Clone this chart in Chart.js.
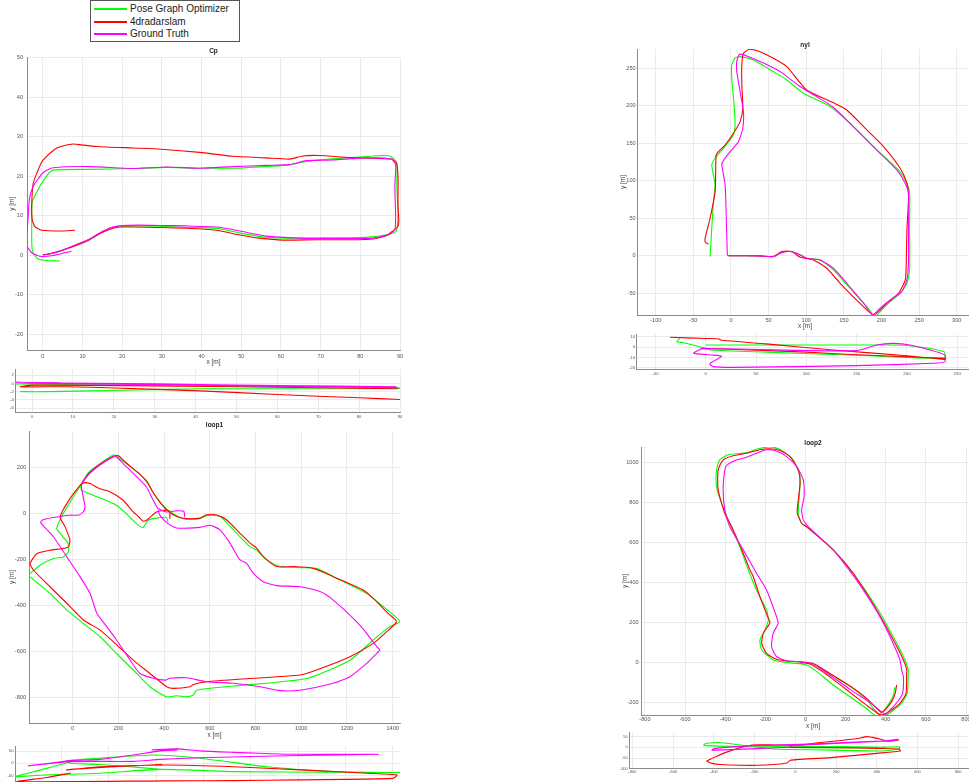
<!DOCTYPE html>
<html>
<head>
<meta charset="utf-8">
<script src="https://cdn.jsdelivr.net/npm/chart.js@4.4.0/dist/chart.umd.min.js"></script>
<style>
  body { margin: 0; background: #fff; width: 969px; height: 782px; overflow: hidden; position: relative;
         font-family: "Liberation Sans", Arial, Helvetica, sans-serif; }
  canvas { position: absolute; }
  #legend { position: absolute; left: 90px; top: 0; width: 148px; height: 40px; border: 1px solid #555; background: #fff; z-index: 5; }
  #legend .row { position: absolute; left: 0; height: 12px; line-height: 12px; font-size: 10px; color: #222; white-space: nowrap; }
  #legend .swatch { position: absolute; left: 3px; top: 5px; width: 33px; height: 2px; }
  #legend .label { position: absolute; left: 39px; top: 0; }
</style>
</head>
<body>
<div id="legend"></div>
<script>
// series names / colours
const legendNames = ['Pose Graph Optimizer', '4dradarslam', 'Ground Truth'];
const seriesColors = ['#00ff00', '#ff0000', '#ff00ff'];

// ---- Cp : x/y trajectories [m]
const cpPgo = [[0,0],[3,0.6],[6,1.6],[10,3.2],[11.8,4],[14.3,5.4],[17,6.8],[19.5,7.3],[24,7.4],[29.4,7.3],[36,7],[43.7,6.8],[49.6,5.6],[56.3,4.5],[64.7,4.3],[73,4.4],[81.5,4.5],[87,5.2],[89.1,6.1],[89.5,10.7],[89.2,17.4],[89.2,23.3],[87.8,24.9],[85.7,25.2],[79.8,24.8],[73.1,24.4],[66.4,23.7],[62.2,22.9],[56,22.4],[47.9,22],[39.5,22],[31.1,22.2],[22.7,21.9],[11.8,21.7],[2.6,21.5],[0.9,20],[-1.2,16.6],[-2.7,13.3],[-2.8,8.2],[-2.7,1.4],[-1.6,-0.7],[0.1,-1.3],[4.3,-1.5]];
const cpSlam = [[0,0],[3,0.6],[6,1.6],[10,3.1],[11.8,3.9],[14.3,5.4],[16.8,6.5],[19.3,7.1],[22.7,7.1],[29.4,7],[36.1,6.8],[43.7,6.3],[49.6,5.1],[54.6,4.3],[60.5,3.8],[68.9,3.9],[77.3,3.9],[83.2,4.1],[86.6,5],[88.2,6.1],[89.5,7.3],[89.7,9],[89.5,12.4],[89.5,19.9],[89.1,23.3],[87.8,24.3],[83.2,24.5],[77.3,24.7],[69.7,25.2],[65.5,25.1],[62.2,24.3],[56.3,24.6],[47.9,25],[39.5,26],[29.8,26.8],[22.7,27.1],[13.4,27.5],[9.7,27.9],[7.6,28.1],[4.6,27.5],[3,26.8],[0,24],[-0.8,22.5],[-2.4,18.3],[-2.8,13.3],[-2.7,9],[-2,7.2],[-0.3,6.3],[4.3,6.1],[8.1,6.3]];
const cpGt = [[0.5,0.1],[3,0.7],[6,1.7],[10,3.3],[11.8,4.1],[14.3,5.6],[17,6.9],[19.3,7.4],[24,7.6],[29.4,7.5],[36,7.4],[43.7,7.1],[49.6,6.1],[56.3,4.8],[64.7,4.3],[73.1,4.2],[83.2,4.3],[87,5.1],[88.7,6.5],[88.9,9.8],[88.7,17.4],[88.9,22.9],[87.8,24.3],[81.5,24.6],[73.1,24.1],[66.4,23.9],[62.2,22.9],[56.3,22.7],[47.9,22.4],[39.5,22],[31.1,22.3],[22.7,21.9],[11.8,22.4],[2.6,22.1],[0.1,20.9],[-2.4,17.5],[-3.4,14.1],[-3.7,9.9],[-4.1,4.8],[-4,2.3],[-2.8,0.6],[-0.8,-0.3],[2.6,-0.1],[7.2,1]];
// Cp : x/z side view
const cpPgoSide = [[-4,-0.1],[20,-0.4],[50,-0.7],[89,-0.9],[90,-1.2],[60,-1.3],[41,-1.3],[24.8,-1.6],[4.4,-2],[-2.9,-2]];
const cpSlamSide = [[89.5,-1.3],[60,-0.9],[30,-0.6],[0,-0.4],[-2.9,-0.8],[8.5,-0.8],[20,-1.1],[41,-1.8],[60,-2.7],[80,-3.5],[90,-3.9]];
const cpGtSide = [[0,0.2],[30,-0.1],[60,-0.5],[89,-0.8],[89,-1],[60,-0.7],[30,-0.3],[0,0.1],[-4,0.3],[7,0.2]];

// ---- nyl
const nylPgo = [[-3.4,0.2],[3.2,0.2],[38.6,-0.2],[56.4,-1.1],[67.3,4.5],[78.4,5.6],[89.6,2.4],[100.7,-3.3],[118.4,-5.6],[136,-18.9],[156,-41],[180.5,-67.8],[191.6,-81],[198.2,-74.4],[211.6,-61.1],[224.9,-50],[233.8,-36.7],[237.4,-18.9],[237.4,34.4],[237.4,83.3],[233.8,96.7],[222.6,114.4],[193.8,141.1],[162.8,172.2],[131.8,198.9],[96.3,216.7],[74.1,234.4],[56.4,245.5],[29.9,261],[12.1,265.5],[5.4,264],[1,254.4],[1,236.7],[4.1,201],[5.4,174.4],[3.2,161],[-10.1,143.3],[-21.1,130],[-25.5,121],[-21.1,94.4],[-23.4,72],[-27.8,-1.2]];
const nylSlam = [[-3.4,0.2],[3.2,0.2],[38.6,-0.2],[56.4,-1.1],[67.5,5.6],[80.8,5.6],[91.9,-2],[109.6,-5.6],[127.3,-16.7],[145,-36.7],[176,-67.8],[189.5,-79],[207.2,-63.3],[222.7,-50],[231.6,-32.2],[232.9,-10],[233.8,34.4],[236,79],[233.8,96.7],[224.9,116.7],[202.7,145.6],[180.5,167.8],[153.9,194.4],[136.2,204],[100.7,221],[74.1,252.2],[56.4,263.3],[38.7,272],[29.8,274.6],[24.5,275.3],[16.5,270],[14.4,255],[14.4,227.7],[15.7,196.7],[12.1,178.8],[3.2,163.3],[-7.8,147.7],[-16.7,138.8],[-19.8,134.4],[-21.1,85.5],[-27.8,50],[-34.4,23.3],[-34,18],[-30,15.3]];
const nylGt = [[-3.4,0.2],[3.2,0.2],[38.6,-0.2],[56.3,-1.1],[67.3,4.2],[78.4,5.6],[87.4,3.3],[100.7,-3.3],[118.4,-5.6],[136,-16.7],[153.9,-36.7],[176,-63],[188.4,-79],[198.2,-70],[211.5,-59],[227,-47.8],[233.7,-32],[235.9,-10],[235.9,34.4],[235.9,83.3],[231.5,96.7],[220.4,114.4],[193.8,141],[162.8,172],[136,198],[114,212],[91.9,225.6],[65.3,245.5],[43.1,257],[21,266.5],[11.2,268.7],[7.7,259],[7.7,245.5],[12.1,218.8],[16.5,192],[15.7,170],[9.8,152],[-1.2,138.8],[-10.9,125.5],[-12.2,121],[-7.8,94.4],[-6.5,58.8],[-4.8,1],[-3.4,0.2]];
const nylPgoSide = [[0,1.9],[50,1.9],[100,1.9],[176,1.9],[200,1.5],[237,-4.5],[237,-11],[150,-8],[60,-5],[5,-2.9],[-5,0],[-22,4.2],[-28.8,5.2],[-25.5,8.4]];
const nylSlamSide = [[-3,-1.3],[50,-3],[100,-5],[150,-7.5],[200,-9.5],[237.7,-11],[237.7,-12],[200,-8.5],[126.8,-2.9],[60,3],[14.2,6.8],[14.2,7.8],[0,8.3],[-35.4,9.4]];
const nylGtSide = [[-5,-1.3],[30,-2],[80,-3],[150,-3.5],[170,2],[186,3.5],[203,1.9],[237.7,-7.7],[237.7,-14.2],[226,-15.8],[150,-18],[27.5,-19.7],[7.6,-19],[4,-16],[16,-9],[5,-7.7],[-12,-6],[-3,-1.3]];

// ---- loop1
const loop1Pgo = [[417,-36],[410,-17],[367,-20],[330,-29],[308,-61],[280,-45],[250,-15],[192,36],[90,80],[39,102],[37,125],[70,180],[120,218],[177,255],[192,250],[260,198],[323,145],[350,95],[381,51],[411,20],[468,-17],[499,-25],[556,-22],[586,-9],[645,-13],[703,-71],[776,-144],[805,-159],[849,-202],[907,-231],[995,-236],[1067,-239],[1140,-275],[1286,-348],[1359,-406],[1432,-471],[1388,-493],[1315,-551],[1213,-639],[1024,-719],[703,-752],[542,-770],[528,-791],[499,-799],[455,-794],[411,-799],[338,-755],[265,-682],[192,-610],[120,-537],[47,-479],[-26,-420],[-99,-348],[-194,-268],[-186,-262],[-143,-225],[-84,-196],[-41,-189],[-19,-167],[-19,-131],[-55,-87],[-70,-65],[-41,0],[3,73],[39,131]];
const loop1Slam = [[425,-23],[425,7],[410,15],[367,7],[323,-29],[308,-33],[290,-15],[265,7],[221,58],[163,95],[120,108],[76,131],[54,135],[39,130],[70,175],[120,215],[178,250],[200,252],[230,225],[290,175],[324,139],[350,95],[381,51],[411,16],[440,-5],[468,-17],[499,-22],[556,-20],[586,-5],[630,-6],[674,-28],[732,-86],[776,-129],[805,-151],[834,-188],[892,-231],[965,-231],[1053,-239],[1140,-275],[1271,-333],[1315,-370],[1380,-435],[1417,-471],[1373,-515],[1315,-566],[1213,-624],[1067,-682],[995,-704],[776,-719],[586,-733],[528,-745],[513,-755],[440,-762],[411,-755],[338,-697],[265,-639],[178,-559],[120,-508],[47,-464],[-26,-391],[-99,-319],[-172,-246],[-186,-218],[-157,-175],[-99,-160],[-48,-153],[-19,-145],[-12,-116],[-33,-58],[-55,-15],[-12,65],[39,131]];
const loop1Gt = [[490,-15],[486,10],[454,12],[410,7],[374,22],[352,58],[323,116],[265,175],[221,218],[192,247],[177,247],[120,212],[76,176],[39,124],[46,73],[54,29],[46,7],[25,-7],[-12,-7],[-84,-17],[-128,-26],[-140,-39],[-85,-100],[-26,-188],[32,-275],[76,-348],[106,-435],[149,-493],[192,-551],[251,-639],[294,-697],[353,-718],[404,-726],[426,-718],[499,-716],[586,-733],[703,-740],[820,-755],[907,-772],[995,-770],[1140,-740],[1213,-711],[1286,-653],[1330,-609],[1344,-595],[1330,-580],[1286,-522],[1242,-471],[1140,-377],[1082,-340],[995,-319],[892,-314],[834,-297],[790,-260],[761,-217],[732,-202],[688,-129],[645,-71],[600,-51],[557,-60],[484,-64],[454,-63],[417,-44],[381,-7],[374,15]];
const loop1PgoSide = [[419,-25],[300,-15],[162,-5],[39,0],[21,10],[162,21],[388,34],[585,21],[867,-14],[1149,-34],[1431,-38],[1149,-37],[726,-34],[416,-25],[162,-41],[-78,-48],[-196,-55],[-100,-30],[39,5]];
const loop1SlamSide = [[425,-5],[200,-15],[39,-25],[21,-27],[162,-14],[444,-7],[726,-14],[1008,-27],[1290,-41],[1417,-48],[1400,-62],[1000,-68],[726,-71],[440,-72],[-190,-75],[-63,-58],[39,-40]];
const loop1GtSide = [[490,55],[410,50],[303,34],[162,16],[35,11],[-78,-4],[-141,-10],[35,7],[303,8],[416,16],[585,23],[1008,32],[1339,37],[980,37],[839,41],[726,45],[585,51],[486,59],[381,55]];

// ---- loop2
const loop2Pgo = [[445,-125],[438,-165],[420,-200],[395,-235],[370,-258],[340,-232],[305,-185],[222,-120],[138,-68],[72,-26],[39,-8],[-2,-2],[-44,-5],[-94,0],[-160,12],[-218,62],[-227,112],[-202,162],[-185,212],[-194,262],[-244,362],[-285,462],[-327,578],[-377,695],[-418,795],[-443,878],[-443,962],[-427,1012],[-385,1037],[-293,1048],[-244,1065],[-194,1075],[-152,1073],[-110,1053],[-61,1012],[-27,928],[-31,828],[-36,745],[-19,695],[14,670],[138,562],[238,445],[363,262],[446,112],[496,12],[512,-38],[512,-55],[507,-155],[479,-205],[429,-247],[404,-263],[380,-275],[355,-272],[305,-232],[222,-172],[138,-113],[55,-45],[6,-13],[-44,-5]];
const loop2Slam = [[454,-113],[447,-155],[430,-195],[405,-228],[380,-250],[350,-225],[305,-180],[222,-118],[138,-65],[72,-24],[39,-6],[-2,0],[-27,3],[-94,7],[-144,15],[-194,45],[-218,95],[-210,145],[-177,198],[-185,220],[-227,328],[-260,428],[-277,462],[-310,545],[-360,662],[-402,745],[-435,862],[-435,962],[-410,1012],[-360,1032],[-293,1045],[-227,1062],[-177,1067],[-127,1058],[-77,1028],[-36,962],[-27,895],[-36,812],[-41,745],[-19,695],[6,678],[138,562],[238,445],[355,262],[438,112],[488,12],[505,-38],[504,-55],[501,-155],[471,-205],[429,-238],[396,-258],[371,-262],[340,-240],[305,-215],[222,-150],[138,-85],[72,-37],[22,-8],[-27,0]];
const loop2Gt = [[-27,3],[-94,8],[-144,28],[-169,78],[-161,145],[-136,195],[-144,228],[-194,362],[-244,445],[-310,562],[-377,678],[-402,762],[-410,878],[-397,978],[-352,1008],[-294,1025],[-244,1045],[-194,1062],[-152,1058],[-94,1028],[-44,978],[-11,912],[-7,828],[-19,762],[-11,712],[22,670],[138,562],[205,478],[288,362],[371,228],[429,112],[471,12],[479,-38],[488,-72],[484,-155],[459,-197],[429,-230],[412,-247],[400,-260],[370,-240],[340,-215],[305,-190],[222,-135],[138,-75],[72,-28],[39,-8],[-27,3]];
const loop2PgoSide = [[445,0],[300,3],[100,4],[0,5],[-218,3],[-443,8],[-450,11],[-434,19],[-376,23],[-336,19],[-205,3],[-106,-8],[-27,-10],[188,-13],[434,-17],[512,-5],[512,3],[400,0],[200,-2],[-44,0]];
const loop2SlamSide = [[507,34],[454,30],[401,42],[352,50],[300,40],[200,30],[100,20],[25,11],[-100,11],[-213,11],[-330,-20],[-434,-64],[-409,-75],[-368,-80],[-188,-84],[-41,-73],[-25,-60],[188,-47],[400,-28],[516,-17],[507,-8],[400,-5],[200,-2],[0,0],[-27,0]];
const loop2GtSide = [[-27,0],[-94,-2],[-169,-5],[-409,-13],[-393,-5],[-205,8],[25,14],[352,27],[466,30],[507,38],[480,35],[400,28],[200,18],[0,10],[-27,5]];

// tick values
const cpXTicks = [0,10,20,30,40,50,60,70,80,90];
const cpYTicks = [-20,-10,0,10,20,30,40,50];
const cpZTicks = [-6,-4,-2,0,2];
const nylXTicks = [-100,-50,0,50,100,150,200,250,300];
const nylYTicks = [-50,0,50,100,150,200,250];
const nylSideXTicks = [-50,0,50,100,150,200,250];
const nylZTicks = [-20,-10,0,10];
const loop1XTicks = [0,200,400,600,800,1000,1200,1400];
const loop1YTicks = [-800,-600,-400,-200,0,200];
const loop1ZTicks = [-50,0,50];
const loop2XTicks = [-800,-600,-400,-200,0,200,400,600,800];
const loop2YTicks = [-200,0,200,400,600,800,1000];
const loop2ZTicks = [-100,-50,0,50];

const FONT = '"Liberation Sans", Arial, Helvetica, sans-serif';
Chart.defaults.font.family = FONT;

// legend
const legendEl = document.getElementById('legend');
const rowCenters = [8, 20.5, 33];
legendNames.forEach((name, i) => {
    const row = document.createElement('div');
    row.className = 'row';
    row.style.top = (rowCenters[i] - 6) + 'px';
    row.innerHTML = `<span class="swatch" style="background:${seriesColors[i]}"></span><span class="label">${name}</span>`;
    legendEl.appendChild(row);
});

// title above the axes, MATLAB style
const plotTitle = {
    id: 'plotTitle',
    afterDraw(chart, args, opts) {
        if (!opts.text) return;
        const { ctx, chartArea } = chart;
        ctx.save();
        ctx.font = 'bold 6.5px ' + FONT;
        ctx.fillStyle = '#222';
        ctx.textAlign = 'center';
        ctx.textBaseline = 'middle';
        ctx.fillText(opts.text, (chartArea.left + chartArea.right) / 2, chartArea.top - opts.gap);
        ctx.restore();
    }
};

function toPts(arr) {
    return arr.map(p => ({ x: p[0], y: p[1] }));
}

function drawPlot(spec) {
    const [cl, ct, cr, cb] = spec.canvas;
    const [L, T, R, B] = spec.area;
    const c = document.createElement('canvas');
    c.width = cr - cl;
    c.height = cb - ct;
    c.style.left = cl + 'px';
    c.style.top = ct + 'px';
    c.style.width = c.width + 'px';
    c.style.height = c.height + 'px';
    document.body.appendChild(c);

    const tickFont = { size: spec.tickSize, family: FONT };
    const gridOpts = { color: '#e6e6e6', lineWidth: 0.8, drawTicks: false };
    const borderOpts = { color: '#8a8a8a', width: 1 };

    // ground truth drawn on top
    const order = [2, 1, 0];
    const datasets = order.map(i => ({
        data: toPts(spec.series[i]),
        borderColor: seriesColors[i],
        backgroundColor: seriesColors[i],
        borderWidth: 1.1,
        pointRadius: 0,
        showLine: true,
        fill: false,
        tension: 0.2
    }));

    new Chart(c, {
        type: 'scatter',
        data: { datasets },
        options: {
            responsive: false,
            devicePixelRatio: 1,
            animation: false,
            events: [],
            layout: { padding: { left: 0, top: T - ct, right: cr - R, bottom: 0 } },
            plugins: {
                legend: { display: false },
                tooltip: { enabled: false },
                plotTitle: { text: spec.title, gap: spec.titleGap }
            },
            scales: {
                x: {
                    type: 'linear', position: 'bottom',
                    min: spec.x[0], max: spec.x[1],
                    afterBuildTicks: s => { s.ticks = spec.xTicks.map(v => ({ value: v })); },
                    afterFit: s => { s.height = cb - B; s.paddingLeft = 0; s.paddingRight = 0; },
                    ticks: { font: tickFont, color: '#555', padding: spec.xPad, autoSkip: false, maxRotation: 0, minRotation: 0, callback: v => String(v) },
                    grid: gridOpts,
                    border: borderOpts,
                    title: { display: !!spec.axisTitles, text: 'x [m]', font: { size: 6.5 }, color: '#444', padding: 0 }
                },
                y: {
                    type: 'linear', position: 'left',
                    min: spec.y[0], max: spec.y[1],
                    afterBuildTicks: s => { s.ticks = spec.yTicks.map(v => ({ value: v })); },
                    afterFit: s => { s.width = L - cl; s.paddingTop = 0; s.paddingBottom = 0; },
                    ticks: { font: tickFont, color: '#555', padding: spec.yPad, autoSkip: false, callback: v => String(v) },
                    grid: gridOpts,
                    border: borderOpts,
                    title: { display: !!spec.axisTitles, text: 'y [m]', font: { size: 6.5 }, color: '#444', padding: 0 }
                }
            }
        },
        plugins: [plotTitle]
    });
}

// Cp
drawPlot({ canvas: [8, 45, 404, 366], area: [27, 57.5, 400, 350], x: [-4, 90], y: [-24, 50],
    xTicks: cpXTicks, yTicks: cpYTicks, series: [cpPgo, cpSlam, cpGt],
    title: 'Cp', titleGap: 6, axisTitles: true, tickSize: 5.6, xPad: 3, yPad: 4 });
drawPlot({ canvas: [1, 367, 404, 421], area: [15.3, 369, 400, 412.3], x: [-4.1, 90], y: [-7.05, 3.55],
    xTicks: cpXTicks, yTicks: cpZTicks, series: [cpPgoSide, cpSlamSide, cpGtSide],
    tickSize: 4.2, xPad: 2.5, yPad: 1.5 });

// nyl
drawPlot({ canvas: [619, 38, 976, 330], area: [637.7, 49, 972.3, 315], x: [-124, 320.7], y: [-79, 275.7],
    xTicks: nylXTicks, yTicks: nylYTicks, series: [nylPgo, nylSlam, nylGt],
    title: 'nyl', titleGap: 4, axisTitles: true, tickSize: 5.6, xPad: 2, yPad: 2 });
drawPlot({ canvas: [626, 332, 976, 378], area: [636.7, 334, 972.3, 369], x: [-68.6, 265], y: [-21.3, 12.6],
    xTicks: nylSideXTicks, yTicks: nylZTicks, series: [nylPgoSide, nylSlamSide, nylGtSide],
    tickSize: 4.4, xPad: 2, yPad: 1.5 });

// loop1
drawPlot({ canvas: [8, 422, 404, 739], area: [29, 431, 400, 723], x: [-191, 1432], y: [-913, 360],
    xTicks: loop1XTicks, yTicks: loop1YTicks, series: [loop1Pgo, loop1Slam, loop1Gt],
    title: 'loop1', titleGap: 5.7, axisTitles: true, tickSize: 5.6, xPad: 2, yPad: 3 });
drawPlot({ canvas: [1, 744, 404, 796], area: [15, 746, 400, 784], x: [-197, 1430], y: [-85, 71],
    xTicks: loop1XTicks, yTicks: loop1ZTicks, series: [loop1PgoSide, loop1SlamSide, loop1GtSide],
    tickSize: 4.2, xPad: 2, yPad: 1.5 });

// loop2
drawPlot({ canvas: [621, 438, 988, 730], area: [641.7, 447, 984.3, 715], x: [-816, 891], y: [-263, 1076],
    xTicks: loop2XTicks, yTicks: loop2YTicks, series: [loop2Pgo, loop2Slam, loop2Gt],
    title: 'loop2', titleGap: 3.7, axisTitles: true, tickSize: 5.6, xPad: 1.5, yPad: 3 });
drawPlot({ canvas: [618, 731, 988, 778], area: [629.3, 732.7, 984.3, 768.3], x: [-815, 928], y: [-98, 68.5],
    xTicks: loop2XTicks, yTicks: loop2ZTicks, series: [loop2PgoSide, loop2SlamSide, loop2GtSide],
    tickSize: 4, xPad: 1.5, yPad: 1.5 });
</script>
</body>
</html>
